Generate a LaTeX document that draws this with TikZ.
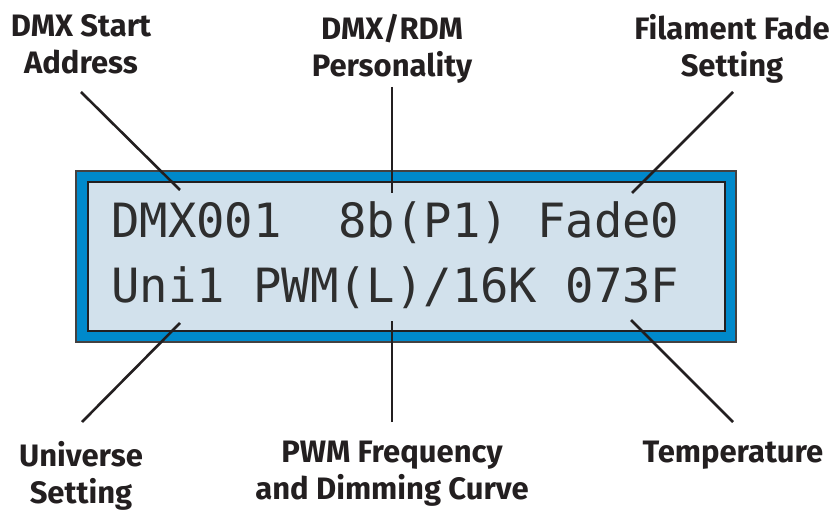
\documentclass[tikz,border=0pt]{standalone}
\usepackage{fontspec}
\setmainfont{Fira Sans}
\newfontfamily\lcdfont{DejaVu Sans Mono}
\definecolor{ink}{HTML}{231F20}
\definecolor{lcdblue}{HTML}{0089CB}
\definecolor{lcdbg}{HTML}{D2E1EC}
\definecolor{lcdtext}{HTML}{2E2E2E}
\tikzset{
  lcd/.style={font=\lcdfont\fontsize{47.2}{47.2}\selectfont, text=lcdtext, inner sep=0pt, anchor=base west},
  lab/.style={font=\bfseries\fontsize{31}{37}\selectfont, text=ink, align=center, inner sep=0pt, anchor=north},
  conn/.style={draw=ink, line width=2.6pt},
}
\begin{document}
\begin{tikzpicture}[x=1pt,y=-1pt]
\path[use as bounding box] (0,0) rectangle (838,510);
% frame
\node[draw=ink!85, line width=2pt, fill=lcdblue, minimum width=660pt, minimum height=171pt, inner sep=0pt] (outer) at (406,256.5) {};
\node[draw=ink, line width=2.6pt, fill=lcdbg, minimum width=637pt, minimum height=149pt, inner sep=0pt] (inner) at (406.5,256.5) {};
% display text
\node[lcd] (dmx) at (111,238) {DMX001};
\node[lcd] (pers) at (338.2,238) {8b(P1)};
\node[lcd] (fade) at (537,238) {Fade0};
\node[lcd] (uni) at (111,303) {Uni1};
\node[lcd] (pwm) at (253,303) {PWM(L)/16K};
\node[lcd] (temp) at (565.4,303) {073F};
% labels
\node[lab] (l1) at (81,14) {DMX Start\\Address};
\node[lab] (l2) at (392,14) {DMX/RDM\\Personality};
\node[lab] (l3) at (732,14) {Filament Fade\\Setting};
\node[lab] (l4) at (81,441) {Universe\\Setting};
\node[lab] (l5) at (392,441) {PWM Frequency\\and Dimming Curve};
\node[lab] (l6) at (733,441) {Temperature};
% connector ends
\coordinate (a1) at (81,92);   \coordinate (b1) at (180,190);
\coordinate (a2) at (392,87);  \coordinate (b2) at (392,193);
\coordinate (a3) at (733,92);  \coordinate (b3) at (632,193);
\coordinate (a4) at (82,422);  \coordinate (b4) at (180,323);
\coordinate (a5) at (392,422); \coordinate (b5) at (392,321);
\coordinate (a6) at (733,422); \coordinate (b6) at (631,320);
\foreach \i in {1,...,6} {\draw[conn] (a\i) -- (b\i);}
\end{tikzpicture}
\end{document}
